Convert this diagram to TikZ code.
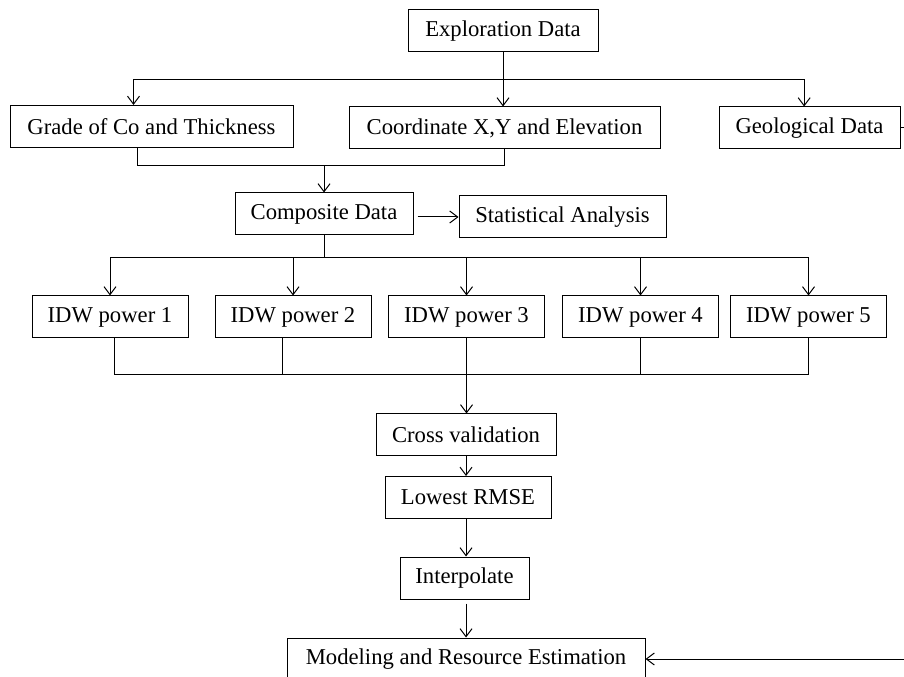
\documentclass[tikz,border=0pt]{standalone}
\usepackage{fontspec}
\setmainfont{Liberation Serif}
\usetikzlibrary{arrows.meta}

\begin{document}
\begin{tikzpicture}[x=0.75pt, y=-0.75pt, line width=0.75pt,
    font=\fontsize{17}{19}\selectfont,
    box/.style={draw, inner sep=0pt, minimum height=31.5pt},
    link/.style={-{Straight Barb[length=6pt,width=9pt]}}]
  \useasboundingbox (0,0) rectangle (904,677);
  % ---------- 1. exploration data ----------
  \node[box, minimum width=142.5pt] (expl) at (503,31) {Exploration Data};
  % ---------- 2. three kinds of data ----------
  \node[box, minimum width=212.25pt] (grade) at (151.5,126.5) {Grade of Co and Thickness};
  \node[box, minimum width=233.25pt] (coord) at (504.5,128) {Coordinate X,Y and Elevation};
  \node[box, minimum width=135.75pt] (geo) at (809.5,128) {Geological Data};
  % ---------- arrows: exploration -> data ----------
  \draw[link] (expl.south) -- (expl.south |- coord.north);
  \draw[link] (expl.south |- 0,80) -| ([xshift=-13.5pt]grade.north);
  \draw[link] (expl.south |- 0,80) -| ([xshift=-4pt]geo.north);
  % ---------- 3. composite data and statistics ----------
  \node[box, minimum width=133.5pt] (comp) at (324,214) {Composite Data};
  \node[box, minimum width=155.25pt] (stat) at (562.5,217) {Statistical Analysis};
  \draw ([xshift=-10.5pt]grade.south) |- (coord.south |- 0,166) -- (coord.south);
  \draw[link] (comp.north |- 0,166) -- (comp.north);
  \draw[link, shorten <=3pt] (comp.east |- stat.west) -- (stat.west);
  % ---------- 4. idw powers ----------
  \foreach \i/\x in {1/110, 2/293, 3/466.5, 4/640.5, 5/808.5}
    {\node[box, minimum width=117pt] (idw\i) at (\x,317) {IDW power \i};}
  \draw (comp.south) -- (comp.south |- 0,258);
  \draw (idw1.north |- 0,258) -- (idw5.north |- 0,258);
  \foreach \i in {1,...,5} {\draw[link] (idw\i.north |- 0,258) -- (idw\i.north);}
  \foreach \i/\s in {1/3, 2/-8.25, 3/0, 4/0, 5/0}
    {\draw ([xshift=\s pt]idw\i.south) -- ([xshift=\s pt]idw\i.south |- 0,375);}
  \draw ([xshift=3pt]idw1.south |- 0,375) -- (idw5.south |- 0,375);
  % ---------- 5. validation chain ----------
  \node[box, minimum width=135pt] (cross) at (466,435) {Cross validation};
  \node[box, minimum width=124.5pt] (lowest) at (468,497.5) {Lowest RMSE};
  \node[box, minimum width=96.75pt] (interp) at (464.5,578) {Interpolate};
  \node[box, minimum width=268.5pt] (model) at (466,659) {Modeling and Resource Estimation};
  \draw[link] (idw3.south) -- (idw3.south |- cross.north);
  \draw[link] (cross.south) -- (cross.south |- lowest.north);
  \draw[link] (cross.south |- lowest.south) -- (cross.south |- interp.north);
  \draw[link, shorten <=3pt] (cross.south |- interp.south) -- (cross.south |- model.north);
  % ---------- geological data -> model ----------
  \draw[link] (geo.east) -- ++(15,0) |- (model.east);
\end{tikzpicture}
\end{document}
